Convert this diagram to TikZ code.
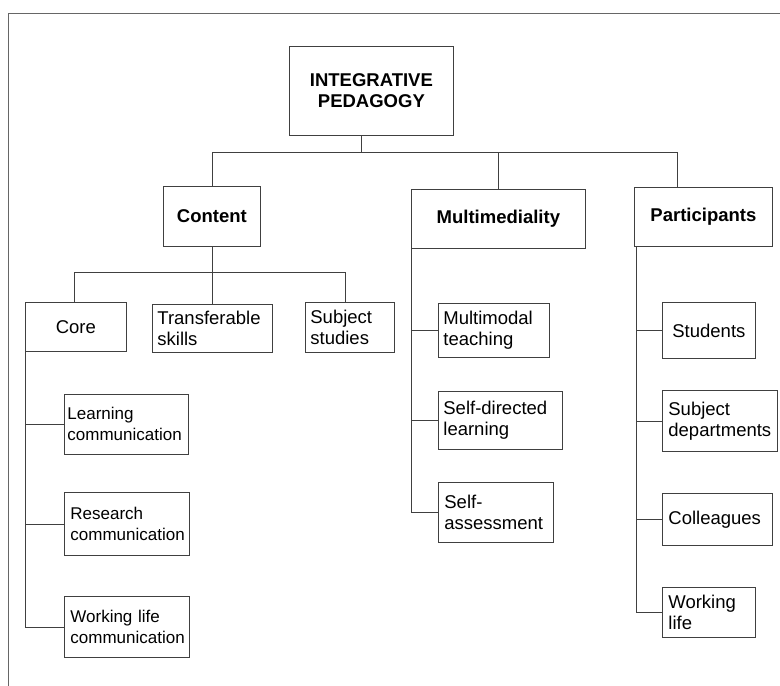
\documentclass[tikz,border=0pt]{standalone}
\usepackage{fontspec}
\setmainfont{Liberation Sans}
\begin{document}
\begin{tikzpicture}[x=1pt,y=-1pt,
    box/.style={draw=black!75, line width=0.8pt, anchor=north west, inner ysep=0pt, align=left, font=\fontsize{18.5}{21}\selectfont},
    head/.style={box, align=center, font=\fontsize{18.5}{21}\selectfont\bfseries},
    small/.style={box, font=\fontsize{17}{21}\selectfont},
    conn/.style={draw=black!75, line width=0.8pt},
    frame/.style={draw=black!60, line width=0.7pt}
]
\useasboundingbox (0,0) rectangle (780,686);
\draw[frame] (8,700) -- (8,13) -- (790,13);

% top: root and three main headings
\node[head, text width=150pt, inner xsep=7pt, minimum height=89pt] (ip) at (289,46) {INTEGRATIVE\\PEDAGOGY};
\node[head, text width=85pt, inner xsep=6pt, minimum height=60pt] (content) at (163,186) {Content};
\node[head, text width=160pt, inner xsep=7pt, minimum height=59pt] (multi) at (411,189) {Multimediality};
\node[head, text width=124pt, inner xsep=7pt, minimum height=59pt] (part) at (634,187) {Participants};

\coordinate (j0) at (361,152);
\coordinate (j3) at (677,152);
\draw[conn] (ip.south -| j0) -- (j0);
\draw[conn] (content.north) |- (j3) -- (part.north -| j3);
\draw[conn] (multi.north) -- (multi.north |- j0);

% left: content
\node[box, align=center, text width=89pt, inner xsep=6pt, minimum height=49pt] (core) at (25,302) {Core};
\node[box, text width=110pt, inner xsep=5pt, minimum height=48pt] (trans) at (152,304) {Transferable\\skills};
\node[box, text width=79pt, inner xsep=5pt, minimum height=50pt] (subj) at (305,302) {Subject\\studies};

\coordinate (k1) at (74,272);
\coordinate (k3) at (345,272);
\draw[conn] (content.south) -- (content.south |- trans.north);
\draw[conn] (core.north -| k1) -- (k1) -- (k3) -- (subj.north -| k3);

\node[small, text width=118pt, inner xsep=3pt, minimum height=60pt] (lc) at (64,394) {Learning\\communication};
\node[small, text width=113pt, inner xsep=6pt, minimum height=63pt] (rc) at (64,492) {Research\\communication};
\node[small, text width=113pt, inner xsep=6pt, minimum height=61pt] (wlc) at (64,596) {Working life\\communication};

\draw[conn] (core.south west) -- (core.south west |- wlc.west);
\foreach \n in {lc,rc,wlc} {
  \draw[conn] (core.south west |- \n.west) -- (\n.west);
}

% middle: multimediality
\node[box, text width=101pt, inner xsep=5pt, minimum height=54pt] (mt) at (438,303) {Multimodal\\teaching};
\node[box, text width=114pt, inner xsep=5pt, minimum height=58pt] (sdl) at (438,391) {Self-directed\\learning};
\node[box, text width=103pt, inner xsep=6pt, minimum height=60pt] (sa) at (438,482) {Self-\\assessment};

\draw[conn] (multi.south west) -- (multi.south west |- sa.west);
\foreach \n in {mt,sdl,sa} {
  \draw[conn] (multi.south west |- \n.west) -- (\n.west);
}

% right: participants
\node[box, align=center, text width=81pt, inner xsep=6pt, minimum height=56pt] (stud) at (662,302) {Students};
\node[box, text width=103pt, inner xsep=6pt, minimum height=61pt] (sd) at (662,390) {Subject\\departments};
\node[box, text width=98pt, inner xsep=6pt, minimum height=52pt] (coll) at (662,493) {Colleagues};
\node[box, text width=81pt, inner xsep=6pt, minimum height=50pt] (wl) at (662,587) {Working\\life};

\coordinate (p0) at (636,246);
\draw[conn] (p0) -- (p0 |- wl.west);
\foreach \n in {stud,sd,coll,wl} {
  \draw[conn] (p0 |- \n.west) -- (\n.west);
}
\end{tikzpicture}
\end{document}
